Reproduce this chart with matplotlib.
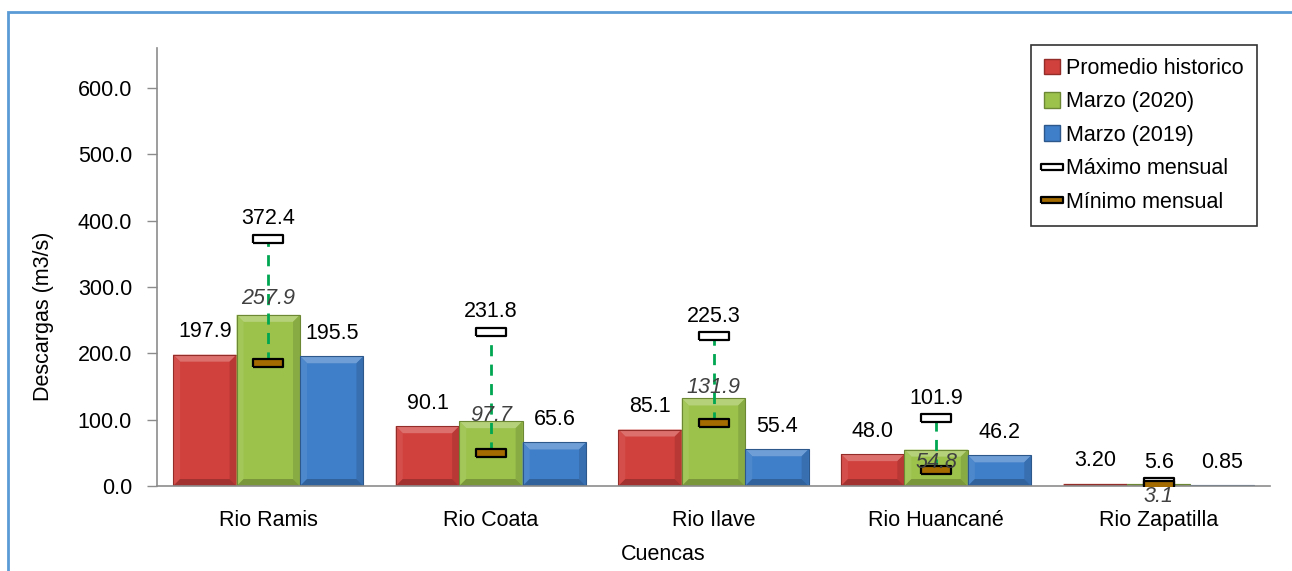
import matplotlib
matplotlib.use('Agg')

import matplotlib.pyplot as plt
import numpy as np
from matplotlib.patches import Polygon, Rectangle, Patch
from matplotlib.lines import Line2D
from matplotlib.colors import to_rgb

plt.rcParams['font.family'] = ['Liberation Sans', 'DejaVu Sans']

cuencas = ['Rio Ramis', 'Rio Coata', 'Rio Ilave', 'Rio Huancané', 'Rio Zapatilla']
promedio = [197.9, 90.1, 85.1, 48.0, 3.20]
marzo_2020 = [257.9, 97.7, 131.9, 54.8, 3.1]
marzo_2019 = [195.5, 65.6, 55.4, 46.2, 0.85]
maximo = [372.4, 231.8, 225.3, 101.9, 5.6]
minimo = [185.0, 50.0, 95.0, 24.0, 1.5]

promedio_txt = ['197.9', '90.1', '85.1', '48.0', '3.20']
marzo_2020_txt = ['257.9', '97.7', '131.9', '54.8', '3.1']
marzo_2019_txt = ['195.5', '65.6', '55.4', '46.2', '0.85']
maximo_txt = ['372.4', '231.8', '225.3', '101.9', '5.6']

W, H = 1292, 571
fig = plt.figure(figsize=(W / 100, H / 100), dpi=100)
ax = fig.add_axes([157 / W, 1 - 486 / H, (1270 - 157) / W, (486 - 48) / H])

x = np.arange(len(cuencas))
bw = 0.285
ax.set_xlim(-0.5, len(cuencas) - 0.5)
ax.set_ylim(0, 660)


def mix(c, other, t):
    c = np.array(to_rgb(c))
    return tuple(c + (np.array(other) - c) * t)


def bevel_bar(xc, h, color):
    # flat bar with a light top / dark bottom bevel
    x0, x1 = xc - bw / 2, xc + bw / 2
    px_x = (ax.get_xlim()[1] - ax.get_xlim()[0]) / (1270 - 157)
    px_y = (ax.get_ylim()[1] - ax.get_ylim()[0]) / (486 - 48)
    dx = 7 * px_x
    dy = min(7 * px_y, h / 2)
    ax.add_patch(Rectangle((x0, 0), bw, h, fc=color, ec='none', zorder=2))
    ax.add_patch(Polygon([(x0, h), (x1, h), (x1 - dx, h - dy), (x0 + dx, h - dy)],
                         fc=mix(color, (1, 1, 1), 0.25), ec='none', zorder=2))
    ax.add_patch(Polygon([(x0, 0), (x0, h), (x0 + dx, h - dy), (x0 + dx, dy)],
                         fc=mix(color, (1, 1, 1), 0.08), ec='none', zorder=2))
    ax.add_patch(Polygon([(x1, 0), (x1, h), (x1 - dx, h - dy), (x1 - dx, dy)],
                         fc=mix(color, (0, 0, 0), 0.12), ec='none', zorder=2))
    ax.add_patch(Polygon([(x0, 0), (x1, 0), (x1 - dx, dy), (x0 + dx, dy)],
                         fc=mix(color, (0, 0, 0), 0.22), ec='none', zorder=2))
    ax.add_patch(Rectangle((x0, 0), bw, h, fc='none',
                           ec=mix(color, (0, 0, 0), 0.3), lw=0.8, zorder=2))


c_red, c_green, c_blue = '#D0403C', '#9CC24C', '#3F7EC8'
for i in range(len(cuencas)):
    bevel_bar(x[i] - bw, promedio[i], c_red)
    bevel_bar(x[i], marzo_2020[i], c_green)
    bevel_bar(x[i] + bw, marzo_2019[i], c_blue)

# range between monthly max and min
for i in range(len(cuencas)):
    ax.plot([x[i], x[i]], [minimo[i], maximo[i]], color='#00A651', lw=2,
            ls=(0, (4, 3)), zorder=3)

rect = [(-1, -0.27), (1, -0.27), (1, 0.27), (-1, 0.27), (-1, -0.27)]
ax.plot(x, maximo, ls='none', marker=rect, ms=22, mfc='white', mec='black',
        mew=1.6, zorder=4)
ax.plot(x, minimo, ls='none', marker=rect, ms=22, mfc='#A36B00', mec='black',
        mew=1.6, zorder=4)

fs = 15.5
for i in range(len(cuencas)):
    ax.annotate(promedio_txt[i], (x[i] - bw, promedio[i]), xytext=(0, 9),
                textcoords='offset points', ha='center', va='bottom', fontsize=fs)
    ax.annotate(marzo_2019_txt[i], (x[i] + bw, marzo_2019[i]), xytext=(0, 9),
                textcoords='offset points', ha='center', va='bottom', fontsize=fs)
    ax.annotate(maximo_txt[i], (x[i], maximo[i]), xytext=(0, 7),
                textcoords='offset points', ha='center', va='bottom', fontsize=fs)

italic_dy = [12, 4, 8, -9, -9]
for i in range(len(cuencas)):
    ax.annotate(marzo_2020_txt[i], (x[i], marzo_2020[i]), xytext=(0, italic_dy[i]),
                textcoords='offset points', ha='center', va='center',
                fontsize=fs, style='italic', color='#404040', zorder=5)

ax.set_xticks(x)
ax.set_xticklabels(cuencas, fontsize=fs)
ax.set_yticks(np.arange(0, 700, 100))
ax.set_yticklabels([f'{v:.1f}' for v in np.arange(0, 700, 100)], fontsize=fs)
ax.tick_params(axis='x', length=0, pad=17)
ax.tick_params(axis='y', length=7, width=1, color='#8C8C8C', pad=11)
for side in ['top', 'right']:
    ax.spines[side].set_visible(False)
for side in ['left', 'bottom']:
    ax.spines[side].set_color('#8C8C8C')
    ax.spines[side].set_linewidth(1.2)

fig.text(44 / W, 1 - 316 / H, 'Descargas (m3/s)', rotation=90, ha='center',
         va='center', fontsize=fs)
fig.text(663 / W, 1 - 555 / H, 'Cuencas', ha='center', va='center', fontsize=fs)

handles = [
    Patch(fc=c_red, ec=mix(c_red, (0, 0, 0), 0.3)),
    Patch(fc=c_green, ec=mix(c_green, (0, 0, 0), 0.3)),
    Patch(fc=c_blue, ec=mix(c_blue, (0, 0, 0), 0.3)),
    Line2D([], [], ls='none', marker=rect, ms=16, mfc='white', mec='black', mew=1.6),
    Line2D([], [], ls='none', marker=rect, ms=16, mfc='#A36B00', mec='black', mew=1.6),
]
labels = ['Promedio historico', 'Marzo (2020)', 'Marzo (2019)',
          'Máximo mensual', 'Mínimo mensual']
leg = fig.legend(handles, labels, loc='upper right',
                 bbox_to_anchor=(1257 / W, 1 - 45 / H), fontsize=fs,
                 frameon=True, fancybox=False, handlelength=0.75,
                 handleheight=0.75, handletextpad=0.3, labelspacing=0.58,
                 borderpad=0.6, borderaxespad=0)
leg.get_frame().set_edgecolor('black')
leg.get_frame().set_linewidth(1.2)

# outer chart frame
fig.add_artist(Rectangle((8 / W, -0.2), 1.2, 1.2 - 12 / H, transform=fig.transFigure,
                         fill=False, ec='#5B9BD5', lw=2, clip_on=False))

plt.savefig('out.png', dpi=100)
